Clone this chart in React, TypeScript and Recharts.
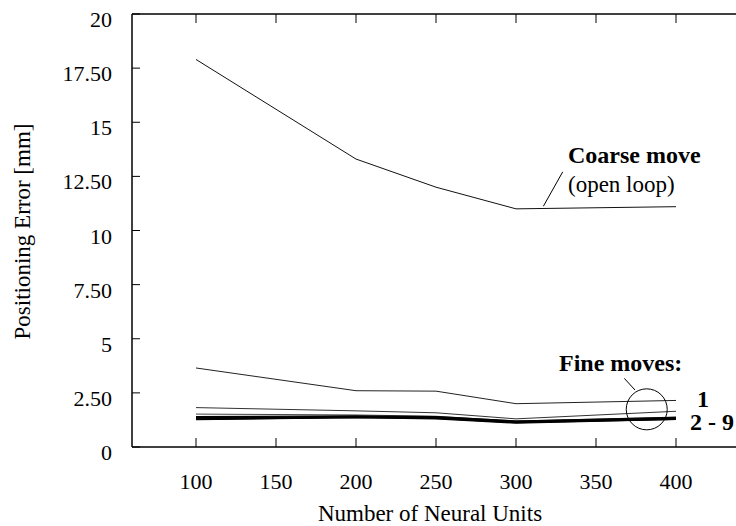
import React from 'react';
import {
  LineChart,
  Line,
  XAxis,
  YAxis,
  ReferenceDot,
  ReferenceLine,
} from 'recharts';

// number of neural units (x) for each measured point
const units = [100, 200, 250, 300, 400];

// positioning error [mm]
const coarseMove = [17.9, 13.3, 12.0, 11.0, 11.1];
const fineMove1 = [3.65, 2.6, 2.58, 2.0, 2.15];
const fineMove2 = [1.82, 1.67, 1.58, 1.3, 1.65];
const fineMove3 = [1.52, 1.48, 1.42, 1.2, 1.38];
const fineMove4 = [1.4, 1.44, 1.4, 1.2, 1.37];
const fineMove5 = [1.36, 1.42, 1.38, 1.18, 1.34];
const fineMove6 = [1.33, 1.4, 1.36, 1.16, 1.32];
const fineMove7 = [1.3, 1.38, 1.34, 1.14, 1.3];
const fineMove8 = [1.28, 1.36, 1.32, 1.12, 1.28];
const fineMove9 = [1.26, 1.35, 1.3, 1.1, 1.27];

const xTicks = [100, 150, 200, 250, 300, 350, 400];
const yTicks = [0, 2.5, 5, 7.5, 10, 12.5, 15, 17.5, 20];

const fineSeries = [fineMove1, fineMove2, fineMove3, fineMove4, fineMove5, fineMove6, fineMove7, fineMove8, fineMove9];

const data = units.map((u, i) => {
  const row: { [key: string]: number } = { units: u, coarse: coarseMove[i] };
  fineSeries.forEach((s, k) => {
    row[`fine${k + 1}`] = s[i];
  });
  return row;
});

const serif = { fontFamily: "'Liberation Serif', 'DejaVu Serif', serif" };

const fmtY = (v: number) => (Number.isInteger(v) ? String(v) : v.toFixed(2));

const BottomTick = (props: any) => {
  const { x, y, payload } = props;
  return (
    <g>
      <line x1={x} y1={y} x2={x} y2={y - 9} stroke="#000" strokeWidth={1} />
      <text x={x} y={y + 42} textAnchor="middle" style={serif} fontSize={22} fill="#000">
        {payload.value}
      </text>
    </g>
  );
};

const TopTick = (props: any) => {
  const { x, y } = props;
  return <line x1={x} y1={y} x2={x} y2={y + 9} stroke="#000" strokeWidth={1} />;
};

const LeftTick = (props: any) => {
  const { x, y, payload } = props;
  return (
    <g>
      <line x1={x} y1={y} x2={x + 8} y2={y} stroke="#000" strokeWidth={1} />
      <text x={x - 20} y={y + 13} textAnchor="end" style={serif} fontSize={22} fill="#000">
        {fmtY(payload.value)}
      </text>
    </g>
  );
};

const RightTick = (props: any) => {
  const { x, y } = props;
  return <line x1={x - 8} y1={y} x2={x} y2={y} stroke="#000" strokeWidth={1} />;
};

const note = (text: string, bold: boolean, size: number) => (props: any) => (
  <text x={props.cx} y={props.cy} style={serif} fontSize={size} fontWeight={bold ? 'bold' : 'normal'} fill="#000">
    {text}
  </text>
);

export default function App() {
  return (
    <div style={{ position: 'absolute', left: 0, top: 0, width: 736, height: 526, overflow: 'hidden', background: '#fff' }}>
      <LineChart width={746} height={526} data={data} margin={{ top: 0, right: 0, bottom: 0, left: 0 }}>
        <XAxis
          dataKey="units"
          type="number"
          domain={[60, 438.75]}
          ticks={xTicks}
          height={79}
          tickLine={false}
          tickSize={0}
          tickMargin={0}
          tick={<BottomTick />}
          axisLine={{ stroke: '#000', strokeWidth: 1.5 }}
          label={{
            content: ({ viewBox }: any) => (
              <text x={viewBox.x + 298} y={viewBox.y + 74} textAnchor="middle" style={serif} fontSize={23} fill="#000">
                Number of Neural Units
              </text>
            ),
          }}
        />
        <XAxis
          xAxisId="top"
          orientation="top"
          dataKey="units"
          type="number"
          domain={[60, 438.75]}
          ticks={xTicks}
          height={14}
          tickLine={false}
          tickSize={0}
          tickMargin={0}
          tick={<TopTick />}
          axisLine={{ stroke: '#000', strokeWidth: 1.5 }}
        />
        <YAxis
          type="number"
          domain={[0, 20]}
          ticks={yTicks}
          width={132}
          tickLine={false}
          tickSize={0}
          tickMargin={0}
          tick={<LeftTick />}
          axisLine={{ stroke: '#000', strokeWidth: 1.5 }}
          label={{
            content: ({ viewBox }: any) => {
              const cx = viewBox.x + 30;
              const cy = viewBox.y + viewBox.height / 2 + 1;
              return (
                <text x={cx} y={cy} transform={`rotate(-90, ${cx}, ${cy})`} textAnchor="middle" style={serif} fontSize={23} fill="#000">
                  Positioning Error [mm]
                </text>
              );
            },
          }}
        />
        <YAxis
          yAxisId="right"
          orientation="right"
          type="number"
          domain={[0, 20]}
          ticks={yTicks}
          width={8}
          tickLine={false}
          tickSize={0}
          tickMargin={0}
          tick={<RightTick />}
          axisLine={false}
        />

        <Line dataKey="coarse" stroke="#111" strokeWidth={1} dot={false} isAnimationActive={false} />
        <Line dataKey="fine1" stroke="#222" strokeWidth={1} dot={false} isAnimationActive={false} />
        <Line dataKey="fine2" stroke="#333" strokeWidth={1} dot={false} isAnimationActive={false} />
        <Line dataKey="fine3" stroke="#444" strokeWidth={1} dot={false} isAnimationActive={false} />
        <Line dataKey="fine4" stroke="#000" strokeWidth={1.2} dot={false} isAnimationActive={false} />
        <Line dataKey="fine5" stroke="#000" strokeWidth={1.2} dot={false} isAnimationActive={false} />
        <Line dataKey="fine6" stroke="#000" strokeWidth={1.2} dot={false} isAnimationActive={false} />
        <Line dataKey="fine7" stroke="#000" strokeWidth={1.2} dot={false} isAnimationActive={false} />
        <Line dataKey="fine8" stroke="#000" strokeWidth={1.2} dot={false} isAnimationActive={false} />
        <Line dataKey="fine9" stroke="#000" strokeWidth={1.2} dot={false} isAnimationActive={false} />

        {/* annotations */}
        <ReferenceLine segment={[{ x: 317.1, y: 11.12 }, { x: 329.2, y: 12.71 }]} stroke="#000" strokeWidth={1} />
        <ReferenceDot x={332.5} y={13.11} r={0} shape={note('Coarse move', true, 24)} />
        <ReferenceDot x={332.5} y={11.77} r={0} shape={note('(open loop)', false, 23)} />

        <ReferenceLine segment={[{ x: 367.7, y: 3.17 }, { x: 374.4, y: 2.63 }]} stroke="#000" strokeWidth={1} />
        <ReferenceDot x={326.9} y={3.51} r={0} shape={note('Fine moves:', true, 24)} />
        <ReferenceDot x={381.7} y={1.74} r={20.5} fill="none" stroke="#000" strokeWidth={1} />
        <ReferenceDot x={413.1} y={1.86} r={0} shape={note('1', true, 24)} />
        <ReferenceDot x={408.75} y={0.785} r={0} shape={note('2 - 9', true, 24)} />
      </LineChart>
    </div>
  );
}
